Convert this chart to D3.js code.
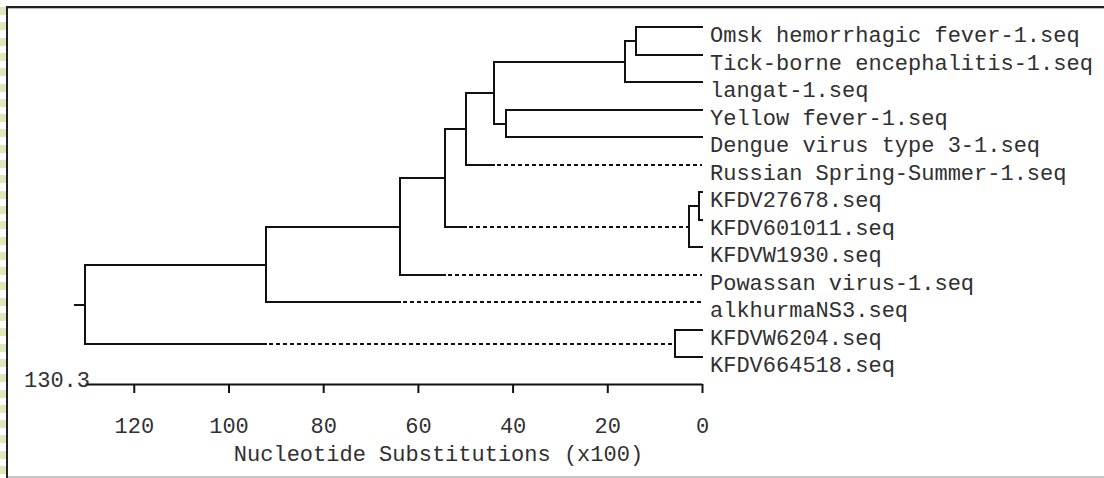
<!DOCTYPE html>
<html>
<head>
<meta charset="utf-8">
<script src="https://cdn.jsdelivr.net/npm/d3@7"></script>
<style>
  html, body { margin: 0; padding: 0; background: #fff; }
  svg { display: block; }
  .mono { font-family: "Courier New", "Nimbus Mono PS", "FreeMono", "Liberation Mono", monospace; font-size: 22px; fill: #303030; }
</style>
</head>
<body>
<svg id="chart" width="1104" height="478"></svg>
<script>
// ---- data ----
const leafNames = [
  "Omsk hemorrhagic fever-1.seq",
  "Tick-borne encephalitis-1.seq",
  "langat-1.seq",
  "Yellow fever-1.seq",
  "Dengue virus type 3-1.seq",
  "Russian Spring-Summer-1.seq",
  "KFDV27678.seq",
  "KFDV601011.seq",
  "KFDVW1930.seq",
  "Powassan virus-1.seq",
  "alkhurmaNS3.seq",
  "KFDVW6204.seq",
  "KFDV664518.seq"
];
// tree: node id, parent id, node height (substitutions x100), height where dashed part begins
const nodeIds   = ["root","n1","n2","n3","n4","n5","n6","n7",leafNames[0],leafNames[1],leafNames[2],"n8",leafNames[3],leafNames[4],leafNames[5],"n9","n10",leafNames[6],leafNames[7],leafNames[8],leafNames[9],leafNames[10],"n11",leafNames[11],leafNames[12]];
const parentIds = ["",   "root","n1","n2","n3","n4","n5","n6","n7",      "n7",       "n6",       "n5","n8",       "n8",       "n4",       "n3","n9", "n10",      "n10",      "n9",       "n2",       "n1",        "root","n11",       "n11"];
const heights   = [130.3, 92.0, 63.7, 54.2, 49.8, 44.0, 16.2, 13.9, 0, 0, 0, 41.3, 0, 0, 0, 2.7, 0.6, 0, 0, 0, 0, 0, 5.8, 0, 0];
const dashFrom  = [null, null, null, null, null, null, null, null, null, null, null, null, null, null, 44.0, 49.8, null, null, null, null, 54.2, 63.7, 92.0, null, null];
const tickValues = [120, 100, 80, 60, 40, 20, 0];
const axisMax = 130.3;
const axisTitle = "Nucleotide Substitutions (x100)";

// ---- setup ----
const svg = d3.select("#chart");
const W = 1104, H = 478;

// frame decorations
const stripe = svg.append("g");
d3.range(7, 478, 15.3).forEach(yy => {
  stripe.append("rect").attr("x", 0).attr("y", Math.round(yy)).attr("width", 6).attr("height", 8).attr("fill", "#dce9bb");
});
svg.append("rect").attr("x", 6).attr("y", 6).attr("width", W - 6).attr("height", 2).attr("fill", "#222");
svg.append("rect").attr("x", 8).attr("y", 8).attr("width", W - 8).attr("height", 1).attr("fill", "#bdbdbd");
svg.append("rect").attr("x", 6).attr("y", 6).attr("width", 2).attr("height", H - 6).attr("fill", "#222");
svg.append("rect").attr("x", 8).attr("y", 476).attr("width", W - 8).attr("height", 2).attr("fill", "#c4c4c4");

const x = d3.scaleLinear().domain([axisMax, 0]).range([85, 702]);
const y = d3.scaleLinear().domain([0, leafNames.length - 1]).range([27, 357]);

const rows = nodeIds.map((id, i) => ({ id, parent: parentIds[i], h: heights[i], dash: dashFrom[i] }));
const root = d3.stratify().id(d => d.id).parentId(d => d.parent || null)(rows);

root.eachAfter(n => {
  if (!n.children) {
    n.py = Math.round(y(leafNames.indexOf(n.data.id)));
  } else {
    n.py = Math.round((n.children[0].py + n.children[n.children.length - 1].py) / 2);
  }
  n.px = Math.round(x(n.data.h));
});

const g = svg.append("g").attr("fill", "none").attr("stroke", "#111").attr("stroke-width", 2);

// root stub
g.append("line").attr("x1", root.px - 10).attr("x2", root.px).attr("y1", root.py).attr("y2", root.py).attr("stroke-linecap", "square");

// verticals
root.descendants().filter(n => n.children).forEach(n => {
  g.append("line")
    .attr("x1", n.px).attr("x2", n.px)
    .attr("y1", n.children[0].py).attr("y2", n.children[n.children.length - 1].py)
    .attr("stroke-linecap", "square");
});

// horizontals
root.descendants().filter(n => n.parent).forEach(n => {
  const x0 = n.parent.px;
  if (n.data.dash != null) {
    const xm = Math.round(x(n.data.dash));
    g.append("line").attr("x1", x0).attr("x2", xm).attr("y1", n.py).attr("y2", n.py).attr("stroke-linecap", "square");
    g.append("line").attr("x1", xm).attr("x2", n.px).attr("y1", n.py).attr("y2", n.py)
      .attr("stroke-dasharray", "4,3").attr("stroke-dashoffset", 4);
  } else {
    g.append("line").attr("x1", x0).attr("x2", n.px).attr("y1", n.py).attr("y2", n.py).attr("stroke-linecap", "square");
  }
});

// leaf labels
svg.append("g").selectAll("text")
  .data(root.leaves())
  .join("text")
  .attr("class", "mono")
  .attr("x", d => d.px + 8)
  .attr("y", d => d.py + 14.5)
  .text(d => d.data.id);

// axis
const axisY = 384;
const axis = d3.axisBottom(x).tickValues(tickValues).tickSize(9).tickSizeOuter(0).tickFormat(d3.format("d"));
const ag = svg.append("g").attr("transform", `translate(0,${axisY})`).call(axis);
ag.select(".domain").attr("stroke", "#111").attr("stroke-width", 2);
ag.selectAll(".tick line").attr("stroke", "#111").attr("stroke-width", 2);
ag.selectAll(".tick text")
  .attr("class", "mono")
  .attr("y", 49).attr("dy", null)
  .attr("font-family", null).attr("font-size", null).attr("fill", null);
ag.attr("font-family", null).attr("font-size", null);

svg.append("text").attr("class", "mono")
  .attr("x", x(axisMax) + 5).attr("y", 387).attr("text-anchor", "end")
  .text(String(axisMax));

svg.append("text").attr("class", "mono")
  .attr("x", 438.5).attr("y", 461).attr("text-anchor", "middle")
  .text(axisTitle);
</script>
</body>
</html>
